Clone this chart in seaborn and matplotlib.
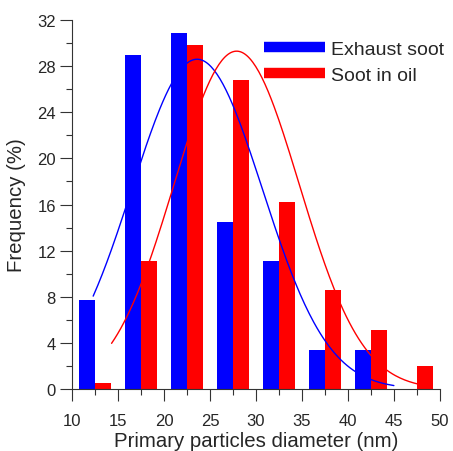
import numpy as np
import pandas as pd
import matplotlib
matplotlib.use("Agg")
import matplotlib.pyplot as plt
from matplotlib.lines import Line2D
from matplotlib.ticker import MultipleLocator
import seaborn as sns

# ---- data ----
bin_centers = [12.5, 17.5, 22.5, 27.5, 32.5, 37.5, 42.5, 47.5]
exhaust_soot = [7.7, 29.0, 30.9, 14.5, 11.1, 3.4, 3.4, 0.0]
soot_in_oil = [0.5, 11.1, 29.8, 26.8, 16.2, 8.6, 5.1, 2.0]
series_names = ["Exhaust soot", "Soot in oil"]
colors = ["#0000FF", "#FF0000"]

# Gaussian fit parameters (mean, sigma, amplitude, x-range)
fit_exhaust = dict(mean=23.6, sigma=7.1, amp=28.6, x0=12.3, x1=45.0)
fit_oil = dict(mean=27.9, sigma=6.8, amp=29.3, x0=14.3, x1=47.5)

sns.set_style("ticks")
plt.rcParams['font.family'] = ['Liberation Sans', 'DejaVu Sans']

df = pd.DataFrame({
    "diameter": bin_centers * 2,
    "freq": exhaust_soot + soot_in_oil,
    "series": [series_names[0]] * len(bin_centers) + [series_names[1]] * len(bin_centers),
})

fig = plt.figure(figsize=(4.53, 4.52), dpi=100)
ax = fig.add_axes([0.159, 0.137, 0.812, 0.8165])

sns.barplot(data=df, x="diameter", y="freq", hue="series", hue_order=series_names,
            palette=colors, native_scale=True, width=0.68, dodge=True,
            saturation=1, linewidth=0, legend=False, ax=ax, zorder=2)

curves = []
for name, p in zip(series_names, [fit_exhaust, fit_oil]):
    xs = np.linspace(p["x0"], p["x1"], 200)
    ys = p["amp"] * np.exp(-(xs - p["mean"]) ** 2 / (2 * p["sigma"] ** 2))
    curves.append(pd.DataFrame({"x": xs, "y": ys, "series": name}))
cdf = pd.concat(curves)
sns.lineplot(data=cdf, x="x", y="y", hue="series", hue_order=series_names,
             palette=colors, linewidth=1.0, legend=False, ax=ax, zorder=3, sort=False)

ax.set_xlim(10, 50)
ax.set_ylim(0, 32)
ax.xaxis.set_major_locator(MultipleLocator(5))
ax.xaxis.set_minor_locator(MultipleLocator(2.5))
ax.yaxis.set_major_locator(MultipleLocator(4))
ax.yaxis.set_minor_locator(MultipleLocator(2))
ax.tick_params(which="major", length=8.6, width=0.8, labelsize=12, color="#333333")
ax.tick_params(axis="x", which="major", pad=8.5)
ax.tick_params(axis="y", which="major", pad=3)
ax.tick_params(which="minor", length=4.3, width=0.8, color="#333333")
for s in ["top", "right"]:
    ax.spines[s].set_visible(False)
for s in ["left", "bottom"]:
    ax.spines[s].set_linewidth(0.8)
    ax.spines[s].set_color("#333333")
ax.set_xlabel("Primary particles diameter (nm)", fontsize=14.7, labelpad=2)
ax.set_ylabel("Frequency (%)", fontsize=14.7, labelpad=8)

handles = [Line2D([], [], color=c, lw=7.5, solid_capstyle="butt") for c in colors]
ax.legend(handles, series_names, loc="upper left", bbox_to_anchor=(0.523, 0.946),
          frameon=False, fontsize=14, handlelength=3.1, handletextpad=0.3,
          labelspacing=0.45, borderpad=0, borderaxespad=0)

fig.savefig("out.png", dpi=100)
